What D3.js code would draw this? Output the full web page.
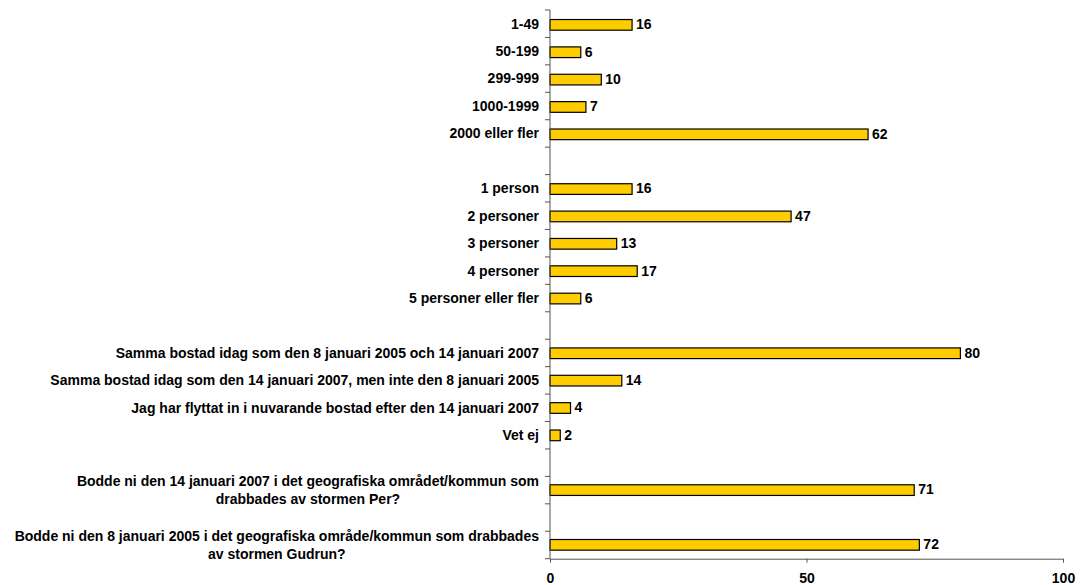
<!DOCTYPE html>
<html>
<head>
<meta charset="utf-8">
<script src="https://cdn.jsdelivr.net/npm/d3@7"></script>
<style>
  html, body { margin: 0; padding: 0; background: #fff; }
  svg { display: block; }
  text { font-family: "Liberation Sans", Arial, sans-serif; font-weight: bold; font-size: 14px; fill: #000; }
</style>
</head>
<body>
<svg id="chart" width="1080" height="585"></svg>
<script>
// Category keys (gaps are empty rows), their label lines, and values
const categories = [
  "1-49", "50-199", "299-999", "1000-1999", "2000 eller fler",
  "gap1",
  "1 person", "2 personer", "3 personer", "4 personer", "5 personer eller fler",
  "gap2",
  "Samma bostad idag som den 8 januari 2005 och 14 januari 2007",
  "Samma bostad idag som den 14 januari 2007, men inte den 8 januari 2005",
  "Jag har flyttat in i nuvarande bostad efter den 14 januari 2007",
  "Vet ej",
  "gap3",
  "Per",
  "gap4",
  "Gudrun"
];
const labelLines = {
  "gap1": [], "gap2": [], "gap3": [], "gap4": [],
  "Per": ["Bodde ni den 14 januari 2007 i det geografiska området/kommun som", "drabbades av stormen Per?"],
  "Gudrun": ["Bodde ni den 8 januari 2005 i det geografiska område/kommun som drabbades", "av stormen Gudrun?"]
};
const values = [16, 6, 10, 7, 62, null, 16, 47, 13, 17, 6, null, 80, 14, 4, 2, null, 71, null, 72];
const xTicks = [0, 50, 100];

const svg = d3.select("#chart");
const axisColor = "#555";

const x = d3.scaleLinear().domain([0, 100]).range([550, 1063]);
const y = d3.scaleBand().domain(categories).range([10, 558.7]).paddingInner(0.61).paddingOuter(0.33);
const yb = d3.scaleBand().domain(categories).range([10, 558.7]);

const data = categories.map((c, i) => ({ key: c, value: values[i] }));

// Bars
svg.append("g").selectAll("rect")
  .data(data.filter(d => d.value != null))
  .join("rect")
  .attr("x", x(0))
  .attr("y", d => y(d.key) + 0.5)
  .attr("width", d => x(d.value) - x(0))
  .attr("height", y.bandwidth())
  .attr("fill", "#FFCC00")
  .attr("stroke", "#000")
  .attr("stroke-width", 1.2);

// Value labels
svg.append("g").selectAll("text")
  .data(data.filter(d => d.value != null))
  .join("text")
  .attr("x", d => x(d.value) + 4)
  .attr("y", d => y(d.key) + y.bandwidth() / 2)
  .attr("dy", "0.35em")
  .text(d => d.value);

// Y axis: line and ticks at band boundaries
const yAxisG = svg.append("g");
yAxisG.append("line")
  .attr("x1", x(0)).attr("x2", x(0))
  .attr("y1", yb.range()[0]).attr("y2", yb.range()[1])
  .attr("stroke", axisColor).attr("stroke-width", 1);
const boundaries = categories.map(c => yb(c)).concat([yb.range()[1]]);
yAxisG.selectAll("line.tick")
  .data(boundaries)
  .join("line")
  .attr("class", "tick")
  .attr("x1", x(0) - 5).attr("x2", x(0))
  .attr("y1", d => d).attr("y2", d => d)
  .attr("stroke", axisColor).attr("stroke-width", 1);

// Y labels
const labelX = 539;
categories.forEach(c => {
  const lines = labelLines[c] !== undefined ? labelLines[c] : [c];
  if (!lines.length) return;
  const cy = yb(c) + yb.bandwidth() / 2;
  if (lines.length === 1) {
    svg.append("text")
      .attr("x", labelX).attr("y", cy).attr("dy", "0.35em")
      .attr("text-anchor", "end").text(lines[0]);
  } else {
    const lh = 17.4;
    const t1 = svg.append("text")
      .attr("x", labelX).attr("y", cy - lh / 2).attr("dy", "0.35em")
      .attr("text-anchor", "end").text(lines[0]);
    const w = t1.node().getComputedTextLength();
    svg.append("text")
      .attr("x", labelX - w / 2).attr("y", cy + lh / 2).attr("dy", "0.35em")
      .attr("text-anchor", "middle").text(lines[1]);
  }
});

// X axis
const xAxisG = svg.append("g").attr("transform", `translate(0,${yb.range()[1]})`)
  .call(d3.axisBottom(x).tickValues(xTicks).tickSize(4).tickPadding(10).tickSizeOuter(0));
xAxisG.select(".domain").attr("stroke", axisColor);
xAxisG.selectAll(".tick line").attr("stroke", axisColor);
xAxisG.selectAll(".tick text")
  .style("font-family", "'Liberation Sans', Arial, sans-serif")
  .style("font-weight", "bold").style("font-size", "14px").attr("fill", "#000");
</script>
</body>
</html>
